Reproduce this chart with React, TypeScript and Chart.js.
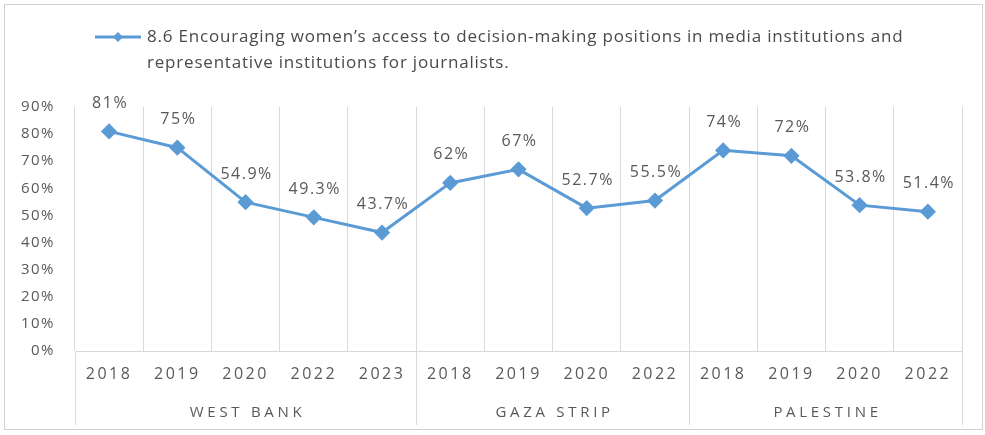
import React, { useEffect, useRef } from "react";
import { Chart, registerables } from "chart.js";

Chart.register(...registerables);

const years = ["2018", "2019", "2020", "2022", "2023", "2018", "2019", "2020", "2022", "2018", "2019", "2020", "2022"];
const groups = ["WEST BANK", "GAZA STRIP", "PALESTINE"];
const groupSizes = [5, 4, 4];
const values = [81, 75, 54.9, 49.3, 43.7, 62, 67, 52.7, 55.5, 74, 72, 53.8, 51.4];
const valueLabels = ["81%", "75%", "54.9%", "49.3%", "43.7%", "62%", "67%", "52.7%", "55.5%", "74%", "72%", "53.8%", "51.4%"];
const yTicks = [0, 10, 20, 30, 40, 50, 60, 70, 80, 90];
const legendLines = [
  "8.6 Encouraging women\u2019s access to decision-making positions in media institutions and",
  "representative institutions for journalists.",
];

const FONT = "'Open Sans', sans-serif";
const LINE = "#5b9bd5";
const TXT = "#595959";

function spaced(scale: any, spacing: string) {
  if (scale.__spaced) return;
  const orig = scale.drawLabels.bind(scale);
  scale.drawLabels = (area: any) => {
    const ctx = scale.ctx;
    ctx.save();
    ctx.letterSpacing = spacing;
    orig(area);
    ctx.restore();
  };
  scale.__spaced = true;
}

const extras = {
  id: "extras",
  afterUpdate(chart: any) {
    spaced(chart.scales.x, "2.5px");
    spaced(chart.scales.y, "1.5px");
  },
  beforeDraw(chart: any) {
    const ctx = chart.ctx;
    ctx.save();
    ctx.fillStyle = "#ffffff";
    ctx.fillRect(0, 0, chart.width, chart.height);
    ctx.strokeStyle = "#d0d0d0";
    ctx.lineWidth = 1;
    ctx.strokeRect(4.5, 4.5, 978, 425);
    ctx.restore();
  },
  afterDraw(chart: any) {
    const ctx = chart.ctx;
    const area = chart.chartArea;
    ctx.save();
    ctx.strokeStyle = "#d9d9d9";
    ctx.lineWidth = 1;
    let idx = 0;
    const bounds: number[] = [];
    const step = (area.right - area.left) / years.length;
    bounds.push(area.left);
    groupSizes.forEach((n) => {
      idx += n;
      bounds.push(area.left + step * idx);
    });
    bounds.forEach((b) => {
      const px = Math.round(b) + 0.5;
      ctx.beginPath();
      ctx.moveTo(px, area.bottom);
      ctx.lineTo(px, 425);
      ctx.stroke();
    });
    ctx.fillStyle = TXT;
    ctx.font = `15px ${FONT}`;
    ctx.letterSpacing = "3.7px";
    ctx.textAlign = "center";
    ctx.textBaseline = "middle";
    groups.forEach((g, i) => {
      ctx.fillText(g, (bounds[i] + bounds[i + 1]) / 2 + 2, 413);
    });
    // data labels
    const meta = chart.getDatasetMeta(0);
    ctx.font = `16px ${FONT}`;
    ctx.letterSpacing = "1.5px";
    ctx.fillStyle = TXT;
    meta.data.forEach((pt: any, i: number) => {
      ctx.fillText(valueLabels[i], pt.x + 1, pt.y - 28);
    });
    // legend
    ctx.letterSpacing = "0px";
    ctx.strokeStyle = LINE;
    ctx.lineWidth = 3;
    ctx.beginPath();
    ctx.moveTo(95, 37);
    ctx.lineTo(141, 37);
    ctx.stroke();
    ctx.fillStyle = LINE;
    ctx.beginPath();
    ctx.moveTo(118, 32);
    ctx.lineTo(123, 37);
    ctx.lineTo(118, 42);
    ctx.lineTo(113, 37);
    ctx.closePath();
    ctx.fill();
    ctx.fillStyle = "#4a4a4a";
    ctx.font = `17px ${FONT}`;
    ctx.letterSpacing = "0.8px";
    ctx.textAlign = "left";
    legendLines.forEach((l, i) => ctx.fillText(l, 147, 37 + i * 26));
    ctx.restore();
  },
};

export default function App() {
  const ref = useRef<HTMLCanvasElement>(null);
  useEffect(() => {
    document.body.style.margin = "0";
    const chart = new Chart(ref.current!, {
      type: "line",
      data: {
        labels: years,
        datasets: [
          {
            data: values,
            borderColor: LINE,
            backgroundColor: LINE,
            borderWidth: 3,
            pointStyle: "rectRot",
            pointRadius: 6,
            pointHoverRadius: 6,
            tension: 0,
          },
        ],
      },
      options: {
        animation: false,
        responsive: false,
        maintainAspectRatio: false,
        layout: { padding: { top: 107, right: 23, left: 0, bottom: 0 } },
        plugins: { legend: { display: false }, tooltip: { enabled: false } },
        scales: {
          x: {
            offset: true,
            grid: { offset: true, color: "#d9d9d9", drawTicks: false },
            border: { display: true, color: "#d9d9d9" },
            ticks: { color: TXT, font: { family: FONT, size: 16 }, padding: 14, maxRotation: 0, autoSkip: false },
            afterFit(s: any) {
              s.height = 84;
            },
          },
          y: {
            min: 0,
            max: 90,
            afterBuildTicks(s: any) {
              s.ticks = yTicks.map((v) => ({ value: v }));
            },
            grid: { display: false },
            border: { display: false },
            ticks: {
              color: TXT,
              font: { family: FONT, size: 15 },
              padding: 12,
              callback: (v: any) => v + "%",
            },
            afterFit(s: any) {
              s.width = 75;
            },
          },
        },
      },
      plugins: [extras],
    });
    return () => chart.destroy();
  }, []);
  return (
    <div style={{ width: 985, height: 435 }}>
      <canvas ref={ref} width={985} height={435} style={{ width: 985, height: 435 }} />
    </div>
  );
}
